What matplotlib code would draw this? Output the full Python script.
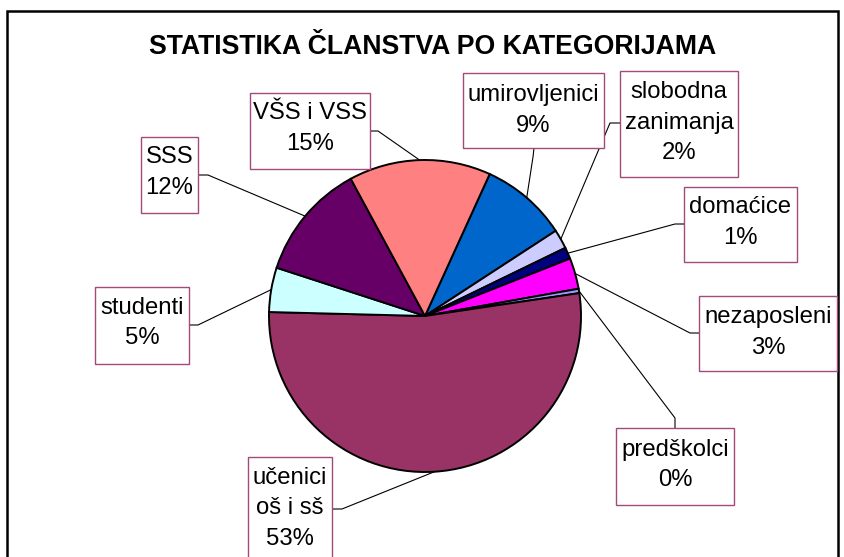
import numpy as np
import matplotlib
matplotlib.use("Agg")
import matplotlib.pyplot as plt
from matplotlib.patches import Rectangle

plt.rcParams['font.family'] = ['Liberation Sans', 'DejaVu Sans']

# ---- data (clockwise order) ----
categories = ["umirovljenici", "slobodna\nzanimanja", "domaćice", "nezaposleni",
              "predškolci", "učenici\noš i sš", "studenti", "SSS", "VŠS i VSS"]
values = [9.0, 2.0, 1.2, 3.2, 0.45, 52.75, 4.6, 12.1, 14.7]
colors = ["#0066CC", "#CCCCFF", "#000080", "#FF00FF", "#9999FF",
          "#993366", "#CCFFFF", "#660066", "#FF8080"]
title = "STATISTIKA ČLANSTVA PO KATEGORIJAMA"

W, H = 845, 557
fig = plt.figure(figsize=(W / 100, H / 100), dpi=100)
ax = fig.add_axes([0, 0, 1, 1])

def Y(y):  # pixel-from-top to axis coords
    return H - y

cx, cy, R = 425, Y(316), 156
wedges, _ = ax.pie(values, colors=colors, startangle=65.5, counterclock=False,
                   center=(cx, cy), radius=R, frame=True,
                   wedgeprops=dict(edgecolor='black', linewidth=1.4))
ax.set_xlim(0, W)
ax.set_ylim(0, H)
ax.set_aspect('equal')
ax.axis('off')

total = sum(values)
# layout: box (x0, y0, x1, y1) in pixels from top, elbow points of leader
layout = [
    ((463, 73, 604, 148), [(534, 148), (533, 157)]),
    ((620, 71, 738, 177), [(620, 123), (610, 123)]),
    ((684, 187, 797, 262), [(684, 224), (675, 224)]),
    ((699, 296, 837, 371), [(699, 333), (690, 333)]),
    ((616, 428, 734, 505), [(675, 428), (675, 418)]),
    ((248, 457, 332, 600), [(332, 509), (342, 509)]),
    ((95, 287, 189, 364), [(189, 325), (198, 325)]),
    ((141, 137, 198, 213), [(198, 175), (208, 175)]),
    ((250, 93, 370, 169), [(370, 131), (378, 131)]),
]
first_line = [95, 92, 207, 317, 450, 478, 308, 157, 113]
line_gap = 30.5

for w, cat, val, (box, elbow), fy in zip(wedges, categories, values, layout, first_line):
    x0, y0, x1, y1 = box
    ax.add_patch(Rectangle((x0, Y(y1)), x1 - x0, y1 - y0, facecolor='white',
                           edgecolor='#A24A7A', linewidth=1.0, zorder=3))
    lines = cat.split("\n") + [f"{val / total * 100:.0f}%"]
    xc = (x0 + x1) / 2
    for i, t in enumerate(lines):
        ax.text(xc, Y(fy + i * line_gap), t, ha='center', va='center',
                fontsize=17.2, color='black', zorder=4)
    mid = np.deg2rad((w.theta1 + w.theta2) / 2)
    ex, ey = cx + R * np.cos(mid), cy + R * np.sin(mid)
    xs = [elbow[0][0], elbow[1][0], ex]
    ys = [Y(elbow[0][1]), Y(elbow[1][1]), ey]
    ax.plot(xs, ys, color='black', linewidth=0.8, zorder=2)

ax.text(433, Y(47), title, ha='center', va='center', fontsize=19.2,
        fontweight='bold', color='black')

# chart frame
ax.plot([7, 7, 838, 838], [0, Y(11), Y(11), 0], color='black', linewidth=1.8,
        solid_joinstyle='miter', clip_on=False)

fig.savefig("out.png", dpi=100)
